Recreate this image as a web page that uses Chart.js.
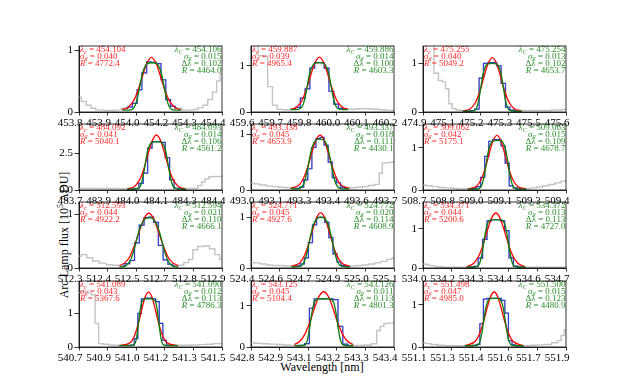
<!DOCTYPE html>
<html>
<head>
<meta charset="utf-8">
<script src="https://cdn.jsdelivr.net/npm/chart.js@4.4.1/dist/chart.umd.min.js"></script>
<style>
  body { margin: 0; background: #fff; }
  #fig { position: relative; width: 630px; height: 390px; overflow: hidden; font-family: 'Liberation Serif', serif; color: #000; }
  .panel { position: absolute; }
  #xlabel { position: absolute; left: 222px; width: 200px; top: 360px; text-align: center; font-size: 12px; }
  #ylabel { position: absolute; left: -36px; width: 200px; top: 227px; text-align: center; font-size: 12px; transform: rotate(-90deg); }
  #ylabel sup { font-size: 8px; }
</style>
</head>
<body>
<div id="fig">
  <div id="ylabel">Arc Lamp flux [10<sup>5</sup> ADU]</div>
  <div id="xlabel">Wavelength [nm]</div>
</div>
<script>
// x window of every panel and the tick labels printed under it
const xMin = [453.8, 459.6, 474.94, 483.74, 493.0, 508.7, 512.3, 524.43, 534.04, 540.7, 542.82, 551.1];
const xMax = [454.4, 460.2, 475.59, 484.39, 493.7, 509.4, 512.9, 525.13, 534.69, 541.5, 543.42, 551.9];
const xTickLabels = [
    ['453.8', '453.9', '454.0', '454.2', '454.3', '454.4'],
    ['459.6', '459.7', '459.8', '460.0', '460.1', '460.2'],
    ['474.9', '475.1', '475.2', '475.3', '475.5', '475.6'],
    ['483.7', '483.9', '484.0', '484.1', '484.3', '484.4'],
    ['493.0', '493.1', '493.3', '493.4', '493.6', '493.7'],
    ['508.7', '508.8', '509.0', '509.1', '509.3', '509.4'],
    ['512.3', '512.4', '512.5', '512.7', '512.8', '512.9'],
    ['524.4', '524.6', '524.7', '524.9', '525.0', '525.1'],
    ['534.0', '534.2', '534.3', '534.4', '534.6', '534.7'],
    ['540.7', '540.9', '541.0', '541.2', '541.3', '541.5'],
    ['542.8', '542.9', '543.1', '543.2', '543.3', '543.4'],
    ['551.1', '551.3', '551.4', '551.6', '551.7', '551.9']
];
const yMax = [1.065, 1.43, 1.36, 4.5, 1.18, 1.57, 1.23, 1.3, 1.68, 1.96, 1.6, 1.56];
const yTickValues = [[0, 1], [0, 1], [0, 1], [0, 2.5], [0, 1], [0, 1], [0, 1], [0, 1], [0, 1], [0, 1], [0, 1], [0, 1]];
const yTickLabels = [['0', '1'], ['0', '1'], ['0', '1'], ['0.0', '2.5'], ['0', '1'], ['0', '1'], ['0', '1'], ['0', '1'], ['0', '1'], ['0', '1'], ['0', '1'], ['0', '1']];

// fit results written in the panels (red = gaussian, green = box * gaussian)
const lineCenter = [454.104, 459.887, 475.255, 484.092, 493.338, 509.062, 512.593, 524.771, 534.371, 541.089, 543.125, 551.498];
const gaussSigma = [0.040, 0.039, 0.040, 0.041, 0.045, 0.042, 0.044, 0.045, 0.044, 0.043, 0.045, 0.047];
const gaussR = [4772.4, 4965.4, 5049.2, 5040.1, 4653.9, 5175.1, 4922.2, 4927.6, 5200.6, 5367.6, 5104.4, 4985.0];
const boxCenter = [454.106, 459.886, 475.254, 484.093, 493.337, 509.063, 512.594, 524.772, 534.372, 541.090, 543.126, 551.500];
const boxSigma = [0.015, 0.014, 0.013, 0.014, 0.018, 0.015, 0.021, 0.020, 0.013, 0.012, 0.011, 0.015];
const boxWidth = [0.102, 0.100, 0.102, 0.106, 0.111, 0.109, 0.110, 0.114, 0.113, 0.113, 0.113, 0.123];
const boxR = [4464.0, 4603.3, 4653.7, 4561.2, 4430.1, 4678.7, 4666.1, 4608.9, 4727.0, 4786.3, 4801.3, 4480.9];
const fitHalfWidth = [0.123, 0.12, 0.133, 0.133, 0.143, 0.143, 0.123, 0.143, 0.133, 0.164, 0.123, 0.164];

// model curves, read at the window edges and at these offsets from the line centre [nm]
const profileOffsets = [-0.10, -0.08, -0.07, -0.06, -0.05, -0.04, -0.02, 0, 0.02, 0.04, 0.05, 0.06, 0.07, 0.08, 0.10];
const redFlux = [
    [0.04, 0.07, 0.15, 0.22, 0.31, 0.425, 0.55, 0.78, 0.88, 0.78, 0.55, 0.425, 0.31, 0.22, 0.15, 0.07, 0.04],
    [0.06, 0.09, 0.19, 0.28, 0.41, 0.56, 0.73, 1.05, 1.19, 1.05, 0.73, 0.56, 0.41, 0.28, 0.19, 0.09, 0.06],
    [0.024, 0.068, 0.17, 0.26, 0.38, 0.52, 0.69, 0.99, 1.12, 0.99, 0.69, 0.52, 0.38, 0.26, 0.17, 0.068, 0.024],
    [0.08, 0.24, 0.60, 0.90, 1.31, 1.80, 2.34, 3.33, 3.75, 3.33, 2.34, 1.80, 1.31, 0.90, 0.60, 0.24, 0.08],
    [0.03, 0.10, 0.22, 0.31, 0.415, 0.54, 0.67, 0.89, 0.98, 0.89, 0.67, 0.54, 0.415, 0.31, 0.22, 0.10, 0.03],
    [0.025, 0.09, 0.225, 0.335, 0.475, 0.645, 0.83, 1.16, 1.30, 1.16, 0.83, 0.645, 0.475, 0.335, 0.225, 0.09, 0.025],
    [0.045, 0.10, 0.21, 0.31, 0.42, 0.55, 0.68, 0.92, 1.02, 0.92, 0.68, 0.55, 0.42, 0.31, 0.21, 0.10, 0.045],
    [0.03, 0.11, 0.24, 0.34, 0.46, 0.60, 0.74, 0.99, 1.085, 0.99, 0.74, 0.60, 0.46, 0.34, 0.24, 0.11, 0.03],
    [0.033, 0.12, 0.28, 0.40, 0.555, 0.735, 0.925, 1.26, 1.40, 1.26, 0.925, 0.735, 0.555, 0.40, 0.28, 0.12, 0.033],
    [0.04, 0.14, 0.32, 0.46, 0.64, 0.84, 1.07, 1.47, 1.63, 1.47, 1.07, 0.84, 0.64, 0.46, 0.32, 0.14, 0.04],
    [0.06, 0.14, 0.30, 0.43, 0.57, 0.74, 0.92, 1.22, 1.34, 1.22, 0.92, 0.74, 0.57, 0.43, 0.30, 0.14, 0.06],
    [0.03, 0.16, 0.33, 0.45, 0.59, 0.75, 0.91, 1.19, 1.30, 1.19, 0.91, 0.75, 0.59, 0.45, 0.33, 0.16, 0.03]
];
const greenFlux = [
    [0.03, 0.03, 0.05, 0.11, 0.24, 0.43, 0.62, 0.78, 0.795, 0.78, 0.62, 0.43, 0.24, 0.11, 0.05, 0.03, 0.03],
    [0.05, 0.05, 0.07, 0.13, 0.29, 0.56, 0.83, 1.05, 1.07, 1.05, 0.83, 0.56, 0.29, 0.13, 0.07, 0.05, 0.05],
    [0.02, 0.02, 0.033, 0.09, 0.26, 0.54, 0.80, 0.99, 1.0, 0.99, 0.80, 0.54, 0.26, 0.09, 0.033, 0.02, 0.02],
    [0.06, 0.06, 0.15, 0.43, 1.06, 1.96, 2.73, 3.27, 3.30, 3.27, 2.73, 1.96, 1.06, 0.43, 0.15, 0.06, 0.06],
    [0.02, 0.026, 0.10, 0.21, 0.38, 0.57, 0.74, 0.89, 0.91, 0.89, 0.74, 0.57, 0.38, 0.21, 0.10, 0.026, 0.02],
    [0.02, 0.02, 0.07, 0.195, 0.43, 0.74, 0.99, 1.17, 1.18, 1.17, 0.99, 0.74, 0.43, 0.195, 0.07, 0.02, 0.02],
    [0.02, 0.035, 0.13, 0.24, 0.39, 0.57, 0.72, 0.90, 0.94, 0.90, 0.72, 0.57, 0.39, 0.24, 0.13, 0.035, 0.02],
    [0.02, 0.036, 0.14, 0.27, 0.45, 0.64, 0.81, 0.97, 1.0, 0.97, 0.81, 0.64, 0.45, 0.27, 0.14, 0.036, 0.02],
    [0.02, 0.02, 0.06, 0.20, 0.50, 0.85, 1.11, 1.23, 1.23, 1.23, 1.11, 0.85, 0.50, 0.20, 0.06, 0.02, 0.02],
    [0.04, 0.04, 0.075, 0.22, 0.575, 1.02, 1.31, 1.43, 1.43, 1.43, 1.31, 1.02, 0.575, 0.22, 0.075, 0.04, 0.04],
    [0.03, 0.03, 0.05, 0.155, 0.46, 0.85, 1.09, 1.17, 1.17, 1.17, 1.09, 0.85, 0.46, 0.155, 0.05, 0.03, 0.03],
    [0.03, 0.035, 0.15, 0.35, 0.63, 0.90, 1.06, 1.15, 1.15, 1.15, 1.06, 0.90, 0.63, 0.35, 0.15, 0.035, 0.03]
];

// measured pixels inside the fit window (blue steps), offsets from the line centre [nm]
const pixelOffsets = [-0.15, -0.13, -0.11, -0.09, -0.07, -0.05, -0.03, -0.01, 0.01, 0.03, 0.05, 0.07, 0.09, 0.11, 0.13, 0.15];
const blueFlux = [
    [null, null, 0.06, 0.08, 0.14, 0.36, 0.63, 0.81, 0.80, 0.78, 0.52, 0.20, 0.09, 0.06, null, null],
    [null, null, 0.07, 0.10, 0.30, 0.50, 0.95, 1.07, 1.07, 0.95, 0.45, 0.17, 0.08, 0.07, null, null],
    [null, 0.02, 0.02, 0.03, 0.06, 0.70, 1.0, 1.02, 1.02, 0.95, 0.59, 0.10, 0.04, 0.02, 0.02, null],
    [null, 0.06, 0.06, 0.10, 0.45, 1.15, 2.85, 3.30, 3.30, 3.25, 2.20, 0.70, 0.12, 0.07, 0.06, null],
    [null, 0.03, 0.03, 0.05, 0.18, 0.38, 0.76, 0.92, 0.94, 0.80, 0.50, 0.22, 0.13, 0.05, 0.03, null],
    [null, 0.03, 0.04, 0.08, 0.30, 0.80, 1.16, 1.20, 1.20, 1.05, 0.64, 0.10, 0.05, 0.03, 0.03, null],
    [null, null, 0.04, 0.08, 0.14, 0.47, 0.80, 0.94, 0.95, 0.85, 0.42, 0.15, 0.07, 0.04, null, null],
    [null, 0.03, 0.04, 0.08, 0.20, 0.50, 0.85, 1.0, 1.0, 0.90, 0.60, 0.28, 0.12, 0.05, 0.03, null],
    [null, 0.02, 0.02, 0.04, 0.25, 0.73, 1.20, 1.23, 1.23, 1.20, 0.95, 0.26, 0.05, 0.02, 0.02, null],
    [0.05, 0.05, 0.05, 0.06, 0.25, 1.0, 1.43, 1.45, 1.45, 1.43, 1.35, 0.70, 0.20, 0.06, 0.05, 0.05],
    [null, null, 0.04, 0.04, 0.08, 0.94, 1.17, 1.17, 1.17, 1.17, 1.15, 0.50, 0.07, 0.04, null, null],
    [0.03, 0.03, 0.04, 0.06, 0.55, 1.13, 1.15, 1.15, 1.15, 1.15, 1.10, 0.80, 0.15, 0.05, 0.03, 0.03]
];

// whole spectrum (grey) left and right of the fit window, [wavelength, flux]
const grayLeft = [
    [[453.80, 0.24], [453.82, 0.17], [453.84, 0.11], [453.86, 0.06], [453.88, 0.035], [453.90, 0.03], [453.92, 0.025], [453.94, 0.025], [453.96, 0.03]],
    [[459.60, 1.45], [459.62, 1.45], [459.64, 1.22], [459.66, 1.20], [459.68, 0.55], [459.70, 0.15], [459.72, 0.06], [459.74, 0.05], [459.76, 0.05]],
    [[474.94, 1.6], [474.96, 1.6], [474.98, 1.6], [475.00, 0.8], [475.02, 0.65], [475.035, 0.62], [475.05, 0.48], [475.065, 0.17], [475.08, 0.07], [475.10, 0.04], [475.12, 0.03]],
    [[483.74, 0.11], [483.80, 0.11], [483.85, 0.10], [483.90, 0.10], [483.94, 0.09]],
    [[493.00, 0.12], [493.03, 0.11], [493.06, 0.09], [493.09, 0.07], [493.12, 0.06], [493.15, 0.05], [493.18, 0.04]],
    [[508.70, 0.12], [508.73, 0.10], [508.76, 0.08], [508.79, 0.06], [508.82, 0.05], [508.85, 0.04], [508.88, 0.03], [508.91, 0.03]],
    [[512.30, 0.22], [512.32, 0.25], [512.345, 0.19], [512.37, 0.13], [512.40, 0.09], [512.43, 0.06], [512.45, 0.05]],
    [[524.43, 0.11], [524.46, 0.10], [524.49, 0.08], [524.52, 0.06], [524.55, 0.05], [524.58, 0.05], [524.61, 0.04]],
    [[534.04, 0.10], [534.06, 0.09], [534.08, 0.06], [534.11, 0.03], [534.15, 0.02], [534.20, 0.02]],
    [[540.70, 1.62], [540.72, 1.66], [540.74, 1.66], [540.76, 1.60], [540.78, 1.55], [540.80, 0.70], [540.82, 0.10], [540.85, 0.08], [540.88, 0.06], [540.91, 0.05]],
    [[542.82, 0.10], [542.85, 0.09], [542.88, 0.08], [542.91, 0.07], [542.94, 0.06], [542.97, 0.05], [543.00, 0.04]],
    [[551.10, 0.10], [551.13, 0.08], [551.16, 0.06], [551.20, 0.04], [551.25, 0.03], [551.30, 0.03]]
];
const grayRight = [
    [[454.25, 0.03], [454.27, 0.03], [454.29, 0.04], [454.31, 0.07], [454.33, 0.11], [454.35, 0.20], [454.37, 0.32], [454.385, 0.50], [454.40, 0.62]],
    [[460.01, 0.06], [460.03, 0.06], [460.06, 0.07], [460.09, 0.07], [460.12, 0.06], [460.15, 0.05], [460.18, 0.04], [460.20, 0.04]],
    [[475.40, 0.03], [475.45, 0.03], [475.50, 0.03], [475.55, 0.04], [475.59, 0.05]],
    [[484.24, 0.10], [484.27, 0.11], [484.29, 0.30], [484.305, 0.55], [484.32, 0.75], [484.34, 0.90], [484.37, 0.92], [484.39, 0.92]],
    [[493.50, 0.04], [493.53, 0.05], [493.56, 0.06], [493.59, 0.08], [493.62, 0.10], [493.635, 0.30], [493.65, 0.48], [493.68, 0.49], [493.70, 0.50]],
    [[509.21, 0.03], [509.24, 0.05], [509.27, 0.07], [509.30, 0.10], [509.33, 0.13], [509.36, 0.17], [509.39, 0.21], [509.40, 0.22]],
    [[512.73, 0.05], [512.75, 0.10], [512.77, 0.16], [512.785, 0.34], [512.81, 0.40], [512.835, 0.41], [512.86, 0.36], [512.88, 0.25], [512.90, 0.16]],
    [[524.93, 0.04], [524.96, 0.05], [524.99, 0.06], [525.02, 0.08], [525.05, 0.10], [525.08, 0.13], [525.11, 0.17], [525.13, 0.20]],
    [[534.52, 0.02], [534.56, 0.02], [534.60, 0.02], [534.65, 0.02], [534.69, 0.02]],
    [[541.27, 0.05], [541.31, 0.05], [541.35, 0.06], [541.39, 0.07], [541.43, 0.08], [541.47, 0.10], [541.50, 0.10]],
    [[543.25, 0.04], [543.28, 0.04], [543.31, 0.05], [543.34, 0.08], [543.355, 0.40], [543.37, 0.50], [543.385, 0.57], [543.41, 0.58], [543.42, 0.58]],
    [[551.68, 0.03], [551.72, 0.04], [551.76, 0.05], [551.80, 0.06], [551.84, 0.10], [551.865, 0.15], [551.88, 0.27], [551.90, 0.40]]
];

// subplot grid (pixels)
const colLeft = [79, 251, 423];
const rowTop = [46, 124, 202, 281];
const plotW = 143, plotH = 66;
const padL = 40, padT = 10, padR = 20, padB = 30;
const serif = "'Liberation Serif', 'DejaVu Serif', serif";

// box round each axes, as matplotlib draws it
const framePlugin = {
    id: 'frame',
    afterDraw: function(chart) {
        const a = chart.chartArea;
        const ctx = chart.ctx;
        ctx.save();
        ctx.strokeStyle = '#000';
        ctx.lineWidth = 0.8;
        ctx.strokeRect(a.left, a.top, a.right - a.left, a.bottom - a.top);
        ctx.restore();
    }
};

// text with subscripts: parts are [text, style] with style '', 'i' (italic) or 's' (subscript)
function drawRich(ctx, parts, x, y, align) {
    const fonts = parts.map(function(p) {
        if (p[1] === 's') return 'italic 6.3px ' + serif;
        if (p[1] === 'i') return 'italic 9px ' + serif;
        return '9px ' + serif;
    });
    const widths = parts.map(function(p, k) { ctx.font = fonts[k]; return ctx.measureText(p[0]).width; });
    const total = widths.reduce(function(a, b) { return a + b; }, 0);
    let cx = align === 'right' ? x - total : x;
    ctx.textAlign = 'left';
    ctx.textBaseline = 'middle';
    parts.forEach(function(p, k) {
        ctx.font = fonts[k];
        ctx.fillText(p[0], cx, y + (p[1] === 's' ? 2 : 0));
        cx += widths[k];
    });
}

const fitTextPlugin = {
    id: 'fitText',
    afterDatasetsDraw: function(chart) {
        const i = chart.options.plugins.fitText.panel;
        const a = chart.chartArea;
        const ctx = chart.ctx;
        ctx.save();
        ctx.fillStyle = '#ff2a2a';
        const redLines = [
            [['λ', 'i'], ['c', 's'], [' = ' + lineCenter[i].toFixed(3), '']],
            [['σ', 'i'], ['g', 's'], [' = ' + gaussSigma[i].toFixed(3), '']],
            [['R', 'i'], [' = ' + gaussR[i].toFixed(1), '']]
        ];
        redLines.forEach(function(l, k) { drawRich(ctx, l, a.left + 1, a.top + 4 + k * 6.8, 'left'); });
        ctx.fillStyle = '#2b8f2b';
        const greenLines = [
            [['λ', 'i'], ['C', 's'], [' = ' + boxCenter[i].toFixed(3), '']],
            [['σ', 'i'], ['g', 's'], [' = ' + boxSigma[i].toFixed(3), '']],
            [['Δλ', ''], [' = ' + boxWidth[i].toFixed(3), '']],
            [['R', 'i'], [' = ' + boxR[i].toFixed(1), '']]
        ];
        greenLines.forEach(function(l, k) { drawRich(ctx, l, a.right - 0.5, a.top + 4 + k * 6.8, 'right'); });
        ctx.restore();
    }
};

function makePanel(i) {
    const col = i % 3, row = Math.floor(i / 3);
    const box = document.createElement('div');
    box.className = 'panel';
    box.style.left = (colLeft[col] - padL) + 'px';
    box.style.top = (rowTop[row] - padT) + 'px';
    const canvas = document.createElement('canvas');
    canvas.width = plotW + padL + padR;
    canvas.height = plotH + padT + padB;
    box.appendChild(canvas);
    document.getElementById('fig').appendChild(box);

    const c = lineCenter[i], w = fitHalfWidth[i];
    function profile(center, flux) {
        const xs = [center - w].concat(profileOffsets.map(function(d) { return center + d; }), [center + w]);
        return xs.map(function(x, k) { return { x: x, y: flux[k] }; });
    }
    const pixels = [];
    pixelOffsets.forEach(function(d, k) {
        if (blueFlux[i][k] !== null) pixels.push({ x: c + d, y: blueFlux[i][k] });
    });
    const toPts = function(arr) { return arr.map(function(p) { return { x: p[0], y: p[1] }; }); };
    const spectrum = toPts(grayLeft[i]).concat(pixels, toPts(grayRight[i]));

    var ctx = canvas.getContext('2d');
    new Chart(ctx, {
        type: 'line',
        data: {
            datasets: [
                { data: spectrum, borderColor: '#c4c4c4', borderWidth: 1.4, stepped: 'middle', order: 4 },
                { data: pixels, borderColor: '#3141d4', borderWidth: 1.2, stepped: 'middle', order: 3 },
                { data: profile(c, redFlux[i]), borderColor: '#ff0000', borderWidth: 1.3, cubicInterpolationMode: 'monotone', order: 2 },
                { data: profile(boxCenter[i], greenFlux[i]), borderColor: '#0a7d0a', borderWidth: 1.3, cubicInterpolationMode: 'monotone', order: 1 }
            ]
        },
        options: {
            responsive: false,
            animation: false,
            events: [],
            layout: { padding: { left: 0, top: padT, right: padR, bottom: 0 } },
            elements: { point: { radius: 0 } },
            plugins: { legend: { display: false }, tooltip: { enabled: false }, fitText: { panel: i } },
            scales: {
                x: {
                    type: 'linear',
                    min: xMin[i],
                    max: xMax[i],
                    afterFit: function(s) { s.height = padB; s.paddingLeft = 0; s.paddingRight = 0; },
                    afterBuildTicks: function(s) {
                        s.ticks = xTickLabels[i].map(function(_, k) { return { value: xMin[i] + k * (xMax[i] - xMin[i]) / 5 }; });
                    },
                    ticks: {
                        autoSkip: false, maxRotation: 0, padding: 1, color: '#000', labelOffset: -9,
                        font: { family: serif, size: 11 },
                        callback: function(value, index) { return xTickLabels[i][index]; }
                    },
                    grid: { drawOnChartArea: false, tickLength: 3.5, color: '#000', lineWidth: 0.8 },
                    border: { color: '#000', width: 0.8 }
                },
                y: {
                    min: 0,
                    max: yMax[i],
                    afterFit: function(s) { s.width = padL; s.paddingTop = 0; s.paddingBottom = 0; },
                    afterBuildTicks: function(s) {
                        s.ticks = yTickValues[i].map(function(v) { return { value: v }; });
                    },
                    ticks: {
                        padding: 1.5, color: '#000',
                        font: { family: serif, size: 11 },
                        callback: function(value, index) { return yTickLabels[i][index]; }
                    },
                    grid: { drawOnChartArea: false, tickLength: 4.5, color: '#000', lineWidth: 0.8 },
                    border: { color: '#000', width: 0.8 }
                }
            }
        },
        plugins: [framePlugin, fitTextPlugin]
    });
}

for (let i = 0; i < 12; i++) makePanel(i);
</script>
</body>
</html>
